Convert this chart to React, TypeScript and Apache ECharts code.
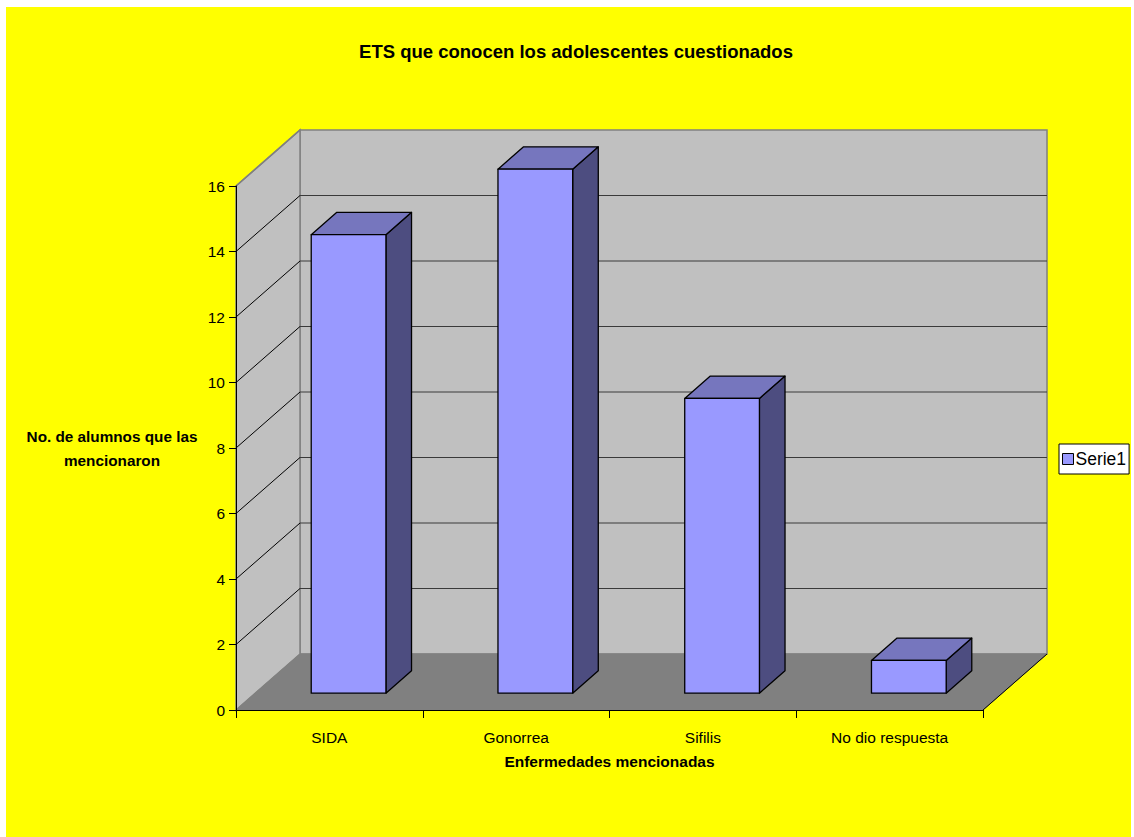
import React, { useEffect, useRef } from "react";
import * as echarts from "echarts";

const categories = ["SIDA", "Gonorrea", "Sifilis", "No dio respuesta"];
const serie1 = [14, 16, 9, 1];
const yTicks = [0, 2, 4, 6, 8, 10, 12, 14, 16];
const seriesName = "Serie1";
const titleText = "ETS que conocen los adolescentes cuestionados";
const xAxisTitle = "Enfermedades mencionadas";
const yAxisTitle = "No. de alumnos que las\nmencionaron";

const FONT = "'Liberation Sans', Arial, sans-serif";
const DX = 64; // depth offset x
const DY = 56; // depth offset y
const BAR_FRONT = 0.3;
const BAR_BACK = 0.7;
const BAR_WIDTH = 0.4;

export default function App() {
  const ref = useRef<HTMLDivElement>(null);
  useEffect(() => {
    if (!ref.current) return;
    const chart = echarts.init(ref.current, undefined, { renderer: "svg" });
    const yMax = yTicks[yTicks.length - 1];
    const n = categories.length;

    const wallsRender = (params: any, api: any) => {
      const band = api.size([1, 0])[0];
      const x0 = api.coord([0, 0])[0] - band / 2;
      const x1 = api.coord([n - 1, 0])[0] + band / 2;
      const yb = api.coord([0, 0])[1];
      const yt = api.coord([0, yMax])[1];
      const children: any[] = [];
      children.push({
        type: "polygon",
        shape: { points: [[x0 + DX, yt - DY], [x1 + DX, yt - DY], [x1 + DX, yb - DY], [x0 + DX, yb - DY]] },
        style: { fill: "#C0C0C0", stroke: "#808080", lineWidth: 1.5 },
      });
      children.push({
        type: "polygon",
        shape: { points: [[x0, yt], [x0 + DX, yt - DY], [x0 + DX, yb - DY], [x0, yb]] },
        style: { fill: "#C0C0C0", stroke: "#808080", lineWidth: 1.5 },
      });
      children.push({
        type: "polygon",
        shape: { points: [[x0, yb], [x0 + DX, yb - DY], [x1 + DX, yb - DY], [x1, yb]] },
        style: { fill: "#808080", stroke: "#808080", lineWidth: 1 },
      });
      yTicks.forEach((t) => {
        if (t === 0) return;
        const y = api.coord([0, t])[1];
        if (t !== yMax) {
          children.push({
            type: "line",
            shape: { x1: x0 + DX, y1: y - DY, x2: x1 + DX, y2: y - DY },
            style: { stroke: "#3a3a3a", lineWidth: 1 },
          });
        }
        children.push({
          type: "line",
          shape: { x1: x0, y1: y, x2: x0 + DX, y2: y - DY },
          style: { stroke: t === yMax ? "#808080" : "#000", lineWidth: t === yMax ? 1.5 : 1 },
        });
      });
      children.push({
        type: "line",
        shape: { x1: x1, y1: yb, x2: x1 + DX, y2: yb - DY },
        style: { stroke: "#000", lineWidth: 1 },
      });
      return { type: "group", children };
    };

    const barRender = (params: any, api: any) => {
      const idx = api.value(0);
      const val = api.value(1);
      const band = api.size([1, 0])[0];
      const w = band * BAR_WIDTH;
      const c0 = api.coord([idx, 0]);
      const c1 = api.coord([idx, val]);
      const fx = DX * BAR_FRONT;
      const fy = DY * BAR_FRONT;
      const bx = DX * (BAR_BACK - BAR_FRONT);
      const by = DY * (BAR_BACK - BAR_FRONT);
      const L = c0[0] - w / 2 + fx;
      const R = L + w;
      const B = c0[1] - fy;
      const T = c1[1] - fy;
      const stroke = { stroke: "#000", lineWidth: 1.3, lineJoin: "round" };
      return {
        type: "group",
        children: [
          {
            type: "polygon",
            shape: { points: [[R, B], [R + bx, B - by], [R + bx, T - by], [R, T]] },
            style: { fill: "#4D4D80", ...stroke },
          },
          {
            type: "polygon",
            shape: { points: [[L, T], [L + bx, T - by], [R + bx, T - by], [R, T]] },
            style: { fill: "#7676BE", ...stroke },
          },
          {
            type: "rect",
            shape: { x: L, y: T, width: w, height: B - T },
            style: { fill: "#9999FF", ...stroke },
          },
        ],
      };
    };

    chart.setOption({
      animation: false,
      backgroundColor: "#FFFFFF",
      graphic: [
        {
          type: "rect",
          z: -10,
          silent: true,
          shape: { x: 6, y: 7, width: 1125, height: 830 },
          style: { fill: "#FFFF00" },
        },
      ],
      title: {
        text: titleText,
        left: 571,
        textAlign: "center",
        top: 37,
        textStyle: { fontFamily: FONT, fontSize: 18.5, fontWeight: "bold", color: "#000" },
      },
      legend: {
        data: [{ name: seriesName, icon: "rect" }],
        orient: "vertical",
        left: 1059,
        top: 444,
        backgroundColor: "#FFFFFF",
        borderColor: "#000",
        borderWidth: 1,
        borderRadius: 0,
        padding: [6, 3, 6, 3],
        itemWidth: 11,
        itemHeight: 11,
        itemGap: 0,
        selectedMode: false,
        textStyle: { fontFamily: FONT, fontSize: 17.5, color: "#000", padding: [0, 0, 0, -3] },
        itemStyle: { color: "#9999FF", borderColor: "#000", borderWidth: 1 },
      },
      grid: { left: 236, right: 151, top: 186, bottom: 127, containLabel: false },
      xAxis: {
        type: "category",
        data: categories,
        z: 10,
        name: xAxisTitle,
        nameLocation: "middle",
        nameGap: 43,
        nameTextStyle: { fontFamily: FONT, fontSize: 15.5, fontWeight: "bold", color: "#000" },
        axisLine: { show: true, lineStyle: { color: "#000", width: 1 } },
        axisTick: { show: true, alignWithLabel: false, length: 8, lineStyle: { color: "#000" } },
        axisLabel: { fontFamily: FONT, fontSize: 15.5, color: "#000", margin: 19, interval: 0 },
        splitLine: { show: false },
      },
      yAxis: {
        type: "value",
        min: 0,
        max: yTicks[yTicks.length - 1],
        interval: yTicks[1] - yTicks[0],
        z: 10,
        name: yAxisTitle,
        nameLocation: "middle",
        nameRotate: 0,
        nameGap: 124,
        nameTextStyle: {
          fontFamily: FONT,
          fontSize: 15.3,
          fontWeight: "bold",
          color: "#000",
          align: "center",
          lineHeight: 24,
        },
        axisLine: { show: true, lineStyle: { color: "#000", width: 1 } },
        axisTick: { show: true, length: 7, lineStyle: { color: "#000" } },
        axisLabel: { fontFamily: FONT, fontSize: 15.5, color: "#000", margin: 11 },
        splitLine: { show: false },
      },
      series: [
        {
          name: "walls",
          type: "custom",
          z: 1,
          silent: true,
          renderItem: wallsRender,
          data: [[0, 0]],
          encode: { x: 0, y: 1 },
        },
        {
          name: seriesName,
          type: "custom",
          z: 3,
          itemStyle: { color: "#9999FF", borderColor: "#000", borderWidth: 1 },
          renderItem: barRender,
          data: serie1.map((v, i) => [i, v]),
          encode: { x: 0, y: 1 },
        },
      ],
    });
    return () => chart.dispose();
  }, []);

  return (
    <div
      ref={ref}
      style={{ position: "absolute", left: 0, top: 0, width: 1134, height: 837 }}
    />
  );
}
